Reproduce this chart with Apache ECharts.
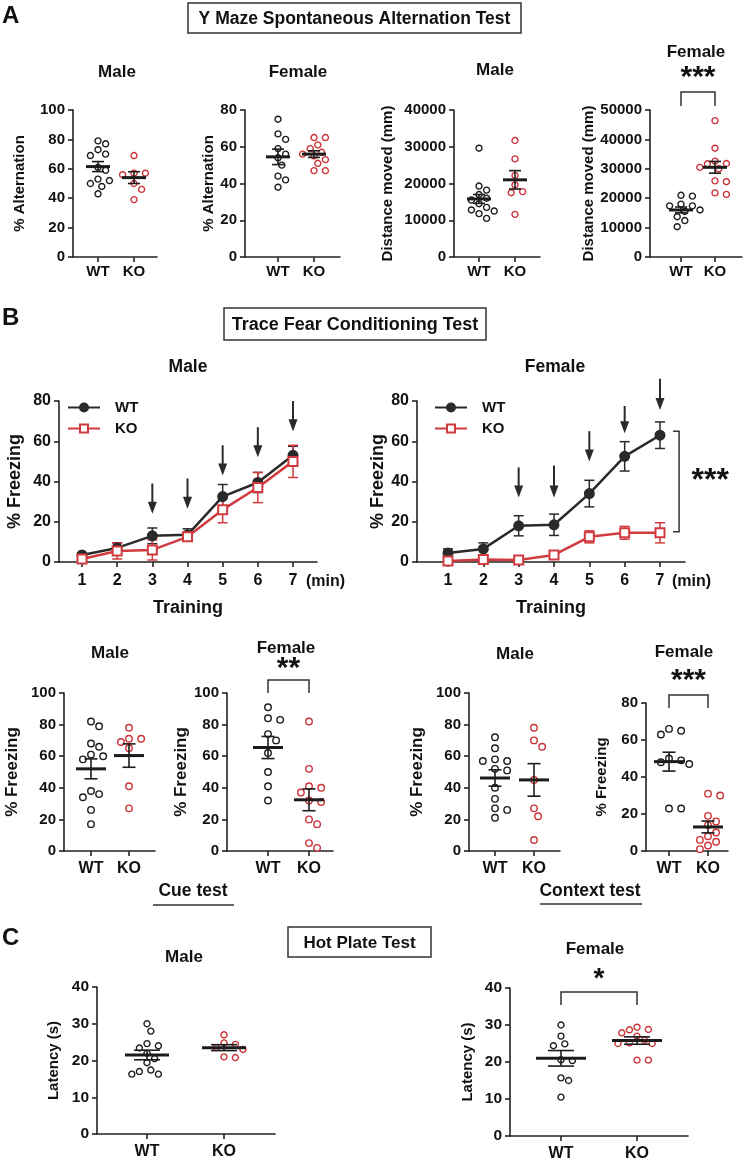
<!DOCTYPE html>
<html><head><meta charset="utf-8">
<script src="https://cdn.jsdelivr.net/npm/echarts@6/dist/echarts.min.js"></script>
<style>html,body{margin:0;padding:0;background:#fff}#c{width:750px;height:1166px}</style>
</head><body><div id="c"></div>
<script>
// ================= DATA =================
const groupLabels = ['WT', 'KO'];
// A: Y maze – % alternation
const altMaleWT = [79, 77, 73, 70, 69, 61, 59, 53, 52, 50, 48, 43];
const altMaleKO = [69, 57, 57, 56, 50, 46, 39];
const altMaleMean = [61.5, 54];
const altMaleSem = [3.4, 4.0];
const altFemaleWT = [75, 67, 64, 59, 56, 54, 50, 44, 42, 38];
const altFemaleKO = [65, 65, 61, 59, 57, 56, 55, 53, 51, 47, 47];
const altFemaleMean = [54.5, 56];
const altFemaleSem = [4.2, 1.8];
// A: Y maze – distance moved (mm)
const distMaleWT = [29600, 19300, 18200, 17000, 16000, 15500, 14500, 13500, 12800, 12500, 11800, 10500];
const distMaleKO = [31700, 26700, 22200, 19600, 17800, 17500, 11600];
const distMaleMean = [15800, 21000];
const distMaleSem = [1200, 2500];
const distFemaleWT = [21000, 20700, 18000, 17400, 17400, 16000, 15500, 13700, 12400, 10300];
const distFemaleKO = [46400, 37000, 32600, 31800, 31700, 30500, 30000, 25900, 25600, 21800, 21300];
const distFemaleMean = [16000, 30500];
const distFemaleSem = [1000, 2000];
// B: training (% freezing per minute)
const minutes = [1, 2, 3, 4, 5, 6, 7];
const trainMaleWT = [3.5, 7, 13, 13.5, 32.5, 39.5, 53];
const trainMaleWTErr = [1, 2.5, 3.9, 3, 6, 5, 4.5];
const trainMaleKO = [1.5, 5.5, 6, 12.5, 26, 37, 50];
const trainMaleKOErr = [1.5, 4, 5, 2, 6.5, 7.5, 8];
const trainFemaleWT = [4.5, 6.5, 18, 18.5, 34, 52.5, 63];
const trainFemaleWTErr = [2, 3, 5, 5.3, 6.6, 7.3, 6.6];
const trainFemaleKO = [0.5, 1.2, 1, 3.5, 12.5, 14.5, 14.5];
const trainFemaleKOErr = [0.5, 0.8, 0.8, 1.5, 3, 3.2, 5];
const shockMinutes = [3, 4, 5, 6, 7];
const arrowMaleTop = [39, 41.5, 58, 67, 80];
const arrowMaleTip = [24, 26.5, 43, 52, 65];
const arrowFemaleTop = [47, 48, 65, 77.5, 91];
const arrowFemaleTip = [32, 32, 50, 64, 75.5];
// B: cue test (% freezing)
const cueMaleWT = [82, 79, 68, 66, 61, 60, 58, 38, 36, 34, 26, 17];
const cueMaleKO = [78, 71, 71, 69, 65, 41, 27];
const cueMaleMean = [52, 60.4];
const cueMaleSem = [6.3, 7.4];
const cueFemaleWT = [91, 84, 83, 74, 70, 62, 50, 41, 32];
const cueFemaleKO = [82, 52, 41, 40, 37, 32, 31, 20, 17, 5, 2];
const cueFemaleMean = [65.5, 32.4];
const cueFemaleSem = [7, 6.9];
// B: context test (% freezing)
const ctxMaleWT = [72, 65, 58, 57, 57, 52, 51, 40, 33, 27, 26, 21];
const ctxMaleKO = [78, 70, 66, 45, 27, 22, 7];
const ctxMaleMean = [46.2, 45];
const ctxMaleSem = [5.2, 10.3];
const ctxFemaleWT = [66, 65, 63, 50, 49, 48, 47, 23, 23];
const ctxFemaleKO = [31, 30, 19, 16, 14, 10, 8, 6, 5, 3, 1];
const ctxFemaleMean = [48.3, 13];
const ctxFemaleSem = [5.1, 3.2];
// C: hot plate latency (s)
const hpMaleWT = [30, 28, 24.6, 24, 23.4, 22, 20.5, 19.4, 17.4, 17, 16.3, 16.3];
const hpMaleKO = [27, 24.8, 24.4, 23.5, 23, 21, 20.8];
const hpMaleMean = [21.5, 23.5];
const hpMaleSem = [1.3, 0.8];
const hpFemaleWT = [30, 27, 24.9, 24.4, 20.6, 20.4, 15.7, 15, 10.5];
const hpFemaleKO = [29.4, 28.8, 28.7, 27.9, 27, 25.9, 25.2, 25, 25, 20.5, 20.5];
const hpFemaleMean = [21, 25.8];
const hpFemaleSem = [2.1, 1.0];
// significance labels
const sigLabels = ['***', '**', '***', '*', '***'];

// ================= LAYOUT / STYLE =================
const FONT = '"Liberation Sans", Arial, Helvetica, sans-serif';
const BLACK = '#1c1c1c', RED = '#cc3338', AX = '#222';

const dotPanels = [
  {g: [73, 110, 84, 147], wx: 98, kx: 134, y: [0, 100, 20], name: '% Alternation', gap: 46, ns: 15, ts: 15, xs: 15, lm: 7, d: [altMaleWT, altMaleKO], m: altMaleMean, s: altMaleSem, mh: 12, ch: 6, sz: 6, title: 'Male', tx: 117, ty: 72, tsz: 17},
  {g: [245, 110, 95, 147], wx: 278, kx: 314, y: [0, 80, 20], name: '% Alternation', gap: 26, ns: 15, ts: 15, xs: 15, lm: 7, d: [altFemaleWT, altFemaleKO], m: altFemaleMean, s: altFemaleSem, mh: 12, ch: 6, sz: 6, title: 'Female', tx: 298, ty: 72, tsz: 17},
  {g: [454, 110, 86, 147], wx: 479, kx: 515, y: [0, 40000, 10000], name: 'Distance moved (mm)', gap: 59, ns: 15, ts: 15, xs: 15, lm: 7, d: [distMaleWT, distMaleKO], m: distMaleMean, s: distMaleSem, mh: 12, ch: 6, sz: 6, title: 'Male', tx: 495, ty: 70, tsz: 17},
  {g: [650, 110, 92, 147], wx: 681, kx: 715, y: [0, 50000, 10000], name: 'Distance moved (mm)', gap: 54, ns: 15, ts: 15, xs: 15, lm: 7, d: [distFemaleWT, distFemaleKO], m: distFemaleMean, s: distFemaleSem, mh: 12, ch: 6, sz: 6, title: 'Female', tx: 696, ty: 52, tsz: 17,
    sig: {label: sigLabels[0], top: 56100, foot: 51400, ly: 61000, fs: 30}},
  {g: [64, 693, 91, 158], wx: 91, kx: 129, y: [0, 100, 20], name: '% Freezing', gap: 43, ns: 17, ts: 15, xs: 16, lm: 10, d: [cueMaleWT, cueMaleKO], m: cueMaleMean, s: cueMaleSem, mh: 15, ch: 6.5, sz: 6.5, title: 'Male', tx: 110, ty: 653, tsz: 17},
  {g: [227, 693, 106, 158], wx: 268, kx: 309, y: [0, 100, 20], name: '% Freezing', gap: 26, ns: 17, ts: 15, xs: 16, lm: 10, d: [cueFemaleWT, cueFemaleKO], m: cueFemaleMean, s: cueFemaleSem, mh: 15, ch: 6.5, sz: 6.5, title: 'Female', tx: 286, ty: 648, tsz: 17,
    sig: {label: sigLabels[1], top: 108.2, foot: 100, ly: 115.5, fs: 30}},
  {g: [469, 693, 91, 158], wx: 495, kx: 534, y: [0, 100, 20], name: '% Freezing', gap: 43, ns: 17, ts: 15, xs: 16, lm: 10, d: [ctxMaleWT, ctxMaleKO], m: ctxMaleMean, s: ctxMaleSem, mh: 15, ch: 6.5, sz: 6.5, title: 'Male', tx: 515, ty: 654, tsz: 17},
  {g: [646, 703, 82, 148], wx: 669, kx: 708, y: [0, 80, 20], name: '% Freezing', gap: 37, ns: 15, ts: 15, xs: 16, lm: 10, d: [ctxFemaleWT, ctxFemaleKO], m: ctxFemaleMean, s: ctxFemaleSem, mh: 15, ch: 6.5, sz: 6.5, title: 'Female', tx: 684, ty: 652, tsz: 17,
    sig: {label: sigLabels[2], top: 84.3, foot: 77.3, ly: 92, fs: 30}},
  {g: [97, 987, 178, 147], wx: 147, kx: 224, y: [0, 40, 10], name: 'Latency (s)', gap: 36, ns: 15, ts: 15.5, xs: 16, lm: 10, d: [hpMaleWT, hpMaleKO], m: hpMaleMean, s: hpMaleSem, mh: 22, ch: 13, sz: 6, title: 'Male', tx: 184, ty: 957, tsz: 17},
  {g: [510, 988, 178, 148], wx: 561, kx: 637, y: [0, 40, 10], name: 'Latency (s)', gap: 35, ns: 15, ts: 15.5, xs: 16, lm: 10, d: [hpFemaleWT, hpFemaleKO], m: hpFemaleMean, s: hpFemaleSem, mh: 25, ch: 13, sz: 6, title: 'Female', tx: 595, ty: 949, tsz: 17,
    sig: {label: sigLabels[3], top: 38.9, foot: 35.4, ly: 42.3, fs: 28}}
];

const linePanels = [
  {g: [59, 401, 258, 161], x1: 82, x7: 293, wt: trainMaleWT, wtE: trainMaleWTErr, ko: trainMaleKO, koE: trainMaleKOErr, aTop: arrowMaleTop, aTip: arrowMaleTip, gap: 35, title: 'Male', tx: 188, ty: 367, minX: 306, legL: 62},
  {g: [417, 401, 268, 161], x1: 448, x7: 660, wt: trainFemaleWT, wtE: trainFemaleWTErr, ko: trainFemaleKO, koE: trainFemaleKOErr, aTop: arrowFemaleTop, aTip: arrowFemaleTip, gap: 27, title: 'Female', tx: 555, ty: 367, minX: 672, legL: 429,
    sig: {label: sigLabels[4], x0: 7.37, x1: 7.54, top: 65, bottom: 15, lx: 8.42, ly: 40, fs: 32}}
];

// deterministic beeswarm layout (offsets in pixels -> data units)
function swarm(vals, cx, pxX, pxY, d) {
  const idx = vals.map((_, i) => i).sort((a, b) => vals[b] - vals[a]);
  const placed = [], res = new Array(vals.length);
  const cands = [0];
  for (let k = 1; k < 40; k++) cands.push(k * d * 0.5, -k * d * 0.5);
  idx.forEach(i => {
    const py = vals[i] * pxY;
    for (const off of cands) {
      if (placed.every(p => Math.hypot(p[0] - off, p[1] - py) >= d * 1.05)) {
        placed.push([off, py]); res[i] = [cx + off / pxX, vals[i]]; break;
      }
    }
  });
  return res;
}

const grids = [], xAxes = [], yAxes = [], series = [], graphics = [];
const axisLineStyle = {show: true, lineStyle: {color: AX, width: 1.6}};
const tickStyle = {show: true, length: 5, lineStyle: {color: AX, width: 1.6}};
const plain = v => String(v);

function txt(x, y, text, size, extra) {
  graphics.push({type: 'text', x: x, y: y, silent: true,
    style: Object.assign({text: text, fill: '#111', font: 'bold ' + size + 'px ' + FONT, align: 'center', verticalAlign: 'middle'}, extra || {})});
}

dotPanels.forEach((p, i) => {
  const [left, top, w, h] = p.g;
  const unit = p.kx - p.wx;
  const xmin = 1 - (p.wx - left) / unit, xmax = 2 + (left + w - p.kx) / unit;
  grids.push({left: left, top: top, width: w, height: h, outerBoundsMode: 'none'});
  xAxes.push({type: 'value', gridIndex: i, min: xmin, max: xmax, splitLine: {show: false},
    axisLine: axisLineStyle, axisTick: Object.assign({customValues: [1, 2]}, tickStyle),
    axisLabel: {customValues: [1, 2], formatter: v => groupLabels[Math.round(v) - 1], color: '#111', fontWeight: 'bold', fontSize: p.xs, fontFamily: FONT, margin: p.lm}});
  yAxes.push({type: 'value', gridIndex: i, min: p.y[0], max: p.y[1], interval: p.y[2], splitLine: {show: false},
    axisLine: axisLineStyle, axisTick: tickStyle,
    axisLabel: {formatter: plain, color: '#111', fontWeight: 'bold', fontSize: p.ts, fontFamily: FONT, margin: 8},
    name: p.name, nameLocation: 'middle', nameGap: p.gap,
    nameTextStyle: {color: '#111', fontWeight: 'bold', fontSize: p.ns, fontFamily: FONT}});
  const pxX = w / (xmax - xmin), pxY = h / (p.y[1] - p.y[0]);
  [0, 1].forEach(gi => {
    series.push({type: 'scatter', name: 'dots' + i + '_' + gi, xAxisIndex: i, yAxisIndex: i, silent: true,
      symbol: 'circle', symbolSize: p.sz,
      itemStyle: {color: '#fff', borderColor: gi === 0 ? BLACK : RED, borderWidth: 1.4, opacity: 1},
      data: swarm(p.d[gi], gi + 1, pxX, pxY, p.sz + 1.6), z: 3});
  });
  series.push({type: 'custom', xAxisIndex: i, yAxisIndex: i, silent: true, clip: false, z: 5,
    data: [[1, p.m[0], p.s[0]], [2, p.m[1], p.s[1]]],
    renderItem: (params, api) => {
      const x = api.value(0), m = api.value(1), s = api.value(2);
      const c = api.coord([x, m]), t = api.coord([x, m + s]), b = api.coord([x, m - s]);
      const st = {stroke: BLACK, lineWidth: 1.6};
      return {type: 'group', children: [
        {type: 'line', shape: {x1: c[0] - p.mh, y1: c[1], x2: c[0] + p.mh, y2: c[1]}, style: {stroke: BLACK, lineWidth: 3}},
        {type: 'line', shape: {x1: c[0], y1: t[1], x2: c[0], y2: b[1]}, style: st},
        {type: 'line', shape: {x1: c[0] - p.ch, y1: t[1], x2: c[0] + p.ch, y2: t[1]}, style: st},
        {type: 'line', shape: {x1: c[0] - p.ch, y1: b[1], x2: c[0] + p.ch, y2: b[1]}, style: st}
      ]};
    }});
  if (p.sig) {
    const sg = p.sig;
    series.push({type: 'custom', xAxisIndex: i, yAxisIndex: i, silent: true, clip: false, z: 6,
      data: [[1, 2, sg.top, sg.foot, sg.ly]],
      renderItem: (params, api) => {
        const a = api.coord([api.value(0), api.value(2)]), b = api.coord([api.value(1), api.value(2)]);
        const f = api.coord([1, api.value(3)]), l = api.coord([1.5, api.value(4)]);
        return {type: 'group', children: [
          {type: 'polyline', shape: {points: [[a[0], f[1]], [a[0], a[1]], [b[0], b[1]], [b[0], f[1]]]}, style: {stroke: '#333', lineWidth: 1.5, fill: null}},
          {type: 'text', style: {text: sg.label, x: l[0], y: l[1], align: 'center', verticalAlign: 'middle', fill: '#111', font: 'bold ' + sg.fs + 'px ' + FONT}}
        ]};
      }});
  }
  txt(p.tx, p.ty, p.title, p.tsz);
});

const legends = [];
linePanels.forEach((p, j) => {
  const i = dotPanels.length + j;
  const [left, top, w, h] = p.g;
  const unit = (p.x7 - p.x1) / 6;
  const xmin = 1 - (p.x1 - left) / unit, xmax = 7 + (left + w - p.x7) / unit;
  grids.push({left: left, top: top, width: w, height: h, outerBoundsMode: 'none'});
  xAxes.push({type: 'value', gridIndex: i, min: xmin, max: xmax, splitLine: {show: false},
    axisLine: axisLineStyle, axisTick: Object.assign({customValues: minutes}, tickStyle),
    axisLabel: {customValues: minutes, color: '#111', fontWeight: 'bold', fontSize: 16, fontFamily: FONT, margin: 11},
    name: 'Training', nameLocation: 'middle', nameGap: 37,
    nameTextStyle: {color: '#111', fontWeight: 'bold', fontSize: 18, fontFamily: FONT}});
  yAxes.push({type: 'value', gridIndex: i, min: 0, max: 80, interval: 20, splitLine: {show: false},
    axisLine: axisLineStyle, axisTick: tickStyle,
    axisLabel: {color: '#111', fontWeight: 'bold', fontSize: 16, fontFamily: FONT, margin: 8},
    name: '% Freezing', nameLocation: 'middle', nameGap: p.gap,
    nameTextStyle: {color: '#111', fontWeight: 'bold', fontSize: 18, fontFamily: FONT}});
  const defs = [
    {name: 'WT', vals: p.wt, err: p.wtE, color: '#2a2a2a', symbol: 'circle', size: 9},
    {name: 'KO', vals: p.ko, err: p.koE, color: '#d13a3f', symbol: 'emptyRect', size: 9}
  ];
  defs.forEach(s => {
    series.push({type: 'custom', xAxisIndex: i, yAxisIndex: i, silent: true, clip: false, z: 2,
      data: minutes.map((m, k) => [m, s.vals[k], s.err[k]]),
      renderItem: (params, api) => {
        const x = api.value(0), m = api.value(1), e = api.value(2);
        const t = api.coord([x, m + e]), b = api.coord([x, Math.max(m - e, 0)]);
        const st = {stroke: s.color, lineWidth: 1.5};
        return {type: 'group', children: [
          {type: 'line', shape: {x1: t[0], y1: t[1], x2: t[0], y2: b[1]}, style: st},
          {type: 'line', shape: {x1: t[0] - 5, y1: t[1], x2: t[0] + 5, y2: t[1]}, style: st},
          {type: 'line', shape: {x1: t[0] - 5, y1: b[1], x2: t[0] + 5, y2: b[1]}, style: st}
        ]};
      }});
    series.push({type: 'line', name: s.name, xAxisIndex: i, yAxisIndex: i, silent: true,
      data: minutes.map((m, k) => [m, s.vals[k]]), symbol: s.symbol, symbolSize: s.size,
      showAllSymbol: true, lineStyle: {color: s.color, width: 2.5},
      itemStyle: {color: s.color, borderColor: s.color, borderWidth: 2}, z: 4});
  });
  // shock arrows
  series.push({type: 'custom', xAxisIndex: i, yAxisIndex: i, silent: true, clip: false, z: 6,
    data: shockMinutes.map((m, k) => [m, p.aTop[k], p.aTip[k]]),
    renderItem: (params, api) => {
      const t = api.coord([api.value(0), api.value(1)]), b = api.coord([api.value(0), api.value(2)]);
      return {type: 'group', children: [
        {type: 'line', shape: {x1: t[0], y1: t[1], x2: b[0], y2: b[1] - 8}, style: {stroke: '#2a2a2a', lineWidth: 2}},
        {type: 'polygon', shape: {points: [[b[0] - 4.5, b[1] - 12], [b[0] + 4.5, b[1] - 12], [b[0], b[1]]]}, style: {fill: '#2a2a2a'}}
      ]};
    }});
  if (p.sig) {
    const sg = p.sig;
    series.push({type: 'custom', xAxisIndex: i, yAxisIndex: i, silent: true, clip: false, z: 6,
      data: [[sg.x0, sg.x1, sg.top, sg.bottom, sg.lx, sg.ly]],
      renderItem: (params, api) => {
        const a = api.coord([api.value(0), api.value(2)]), b = api.coord([api.value(1), api.value(3)]);
        const l = api.coord([api.value(4), api.value(5)]);
        return {type: 'group', children: [
          {type: 'polyline', shape: {points: [[a[0], a[1]], [b[0], a[1]], [b[0], b[1]], [a[0], b[1]]]}, style: {stroke: '#333', lineWidth: 1.5, fill: null}},
          {type: 'text', style: {text: sg.label, x: l[0], y: l[1], align: 'center', verticalAlign: 'middle', fill: '#111', font: 'bold ' + sg.fs + 'px ' + FONT}}
        ]};
      }});
  }
  legends.push({left: p.legL, top: 395, orient: 'vertical', data: ['WT', 'KO'], itemWidth: 32, itemHeight: 10, itemGap: 6,
    selectedMode: false, textStyle: {color: '#111', fontSize: 15, fontWeight: 'bold', fontFamily: FONT, padding: [0, 0, 0, 10]}});
  txt(p.tx, p.ty, p.title, 17.5);
  txt(p.minX, 582, '(min)', 16, {align: 'left'});
});

// panel letters, boxed headers, underlined labels
txt(2, 16, 'A', 24, {align: 'left'});
txt(2, 318, 'B', 24, {align: 'left'});
txt(2, 938, 'C', 24, {align: 'left'});
function box(x0, y0, x1, y1, text, size, family) {
  graphics.push({type: 'rect', silent: true, shape: {x: x0, y: y0, width: x1 - x0, height: y1 - y0}, style: {fill: 'none', stroke: '#333', lineWidth: 1.5}});
  txt((x0 + x1) / 2, (y0 + y1) / 2 + 1, text, size, family ? {font: 'bold ' + size + 'px ' + family} : {});
}
box(188, 3, 521, 33, 'Y Maze Spontaneous Alternation Test', 17.5);
box(224, 308, 486, 340, 'Trace Fear Conditioning Test', 18, '"Liberation Sans Narrow", "Arial Narrow", ' + FONT);
box(288, 927, 431, 957, 'Hot Plate Test', 17);
txt(193, 891, 'Cue test', 17.5);
graphics.push({type: 'line', silent: true, shape: {x1: 153, y1: 905, x2: 234, y2: 905}, style: {stroke: '#333', lineWidth: 1.5}});
txt(590, 891, 'Context test', 17.5);
graphics.push({type: 'line', silent: true, shape: {x1: 540, y1: 904, x2: 642, y2: 904}, style: {stroke: '#333', lineWidth: 1.5}});

const chart = echarts.init(document.getElementById('c'), null, {renderer: 'canvas', width: 750, height: 1166});
chart.setOption({
  animation: false,
  backgroundColor: '#fff',
  textStyle: {fontFamily: FONT},
  grid: grids, xAxis: xAxes, yAxis: yAxes, series: series, legend: legends,
  graphic: {elements: graphics}
});
</script></body></html>
